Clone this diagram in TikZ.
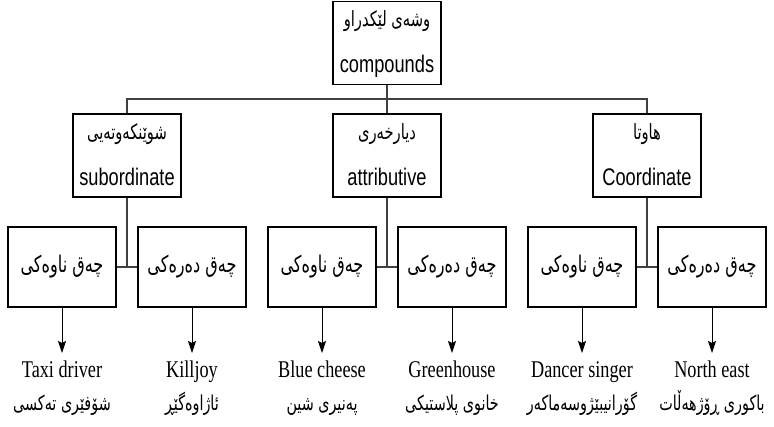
\documentclass[tikz,border=0pt]{standalone}
\usepackage{fontspec}
\setmainfont{Liberation Sans}[FakeStretch=0.76]
\newfontfamily\timesfont{Liberation Serif}[FakeStretch=0.76]
\newfontfamily\kufont[Script=Arabic,FakeStretch=0.7]{DejaVu Sans}
\TeXXeTstate=1
\usetikzlibrary{arrows.meta}
\newcommand{\kurd}[2][21]{{\kufont\fontsize{#1}{30}\selectfont\beginR #2\endR}}
\newcommand{\upstrut}{\rule{0pt}{25pt}}
\newcommand{\downstrut}{\rule[-12pt]{0pt}{12pt}}

\begin{document}
\begin{tikzpicture}[x=1pt, y=-1pt, >={Stealth[length=12pt,width=8pt,inset=2pt]},
    box/.style={draw, line width=1.1pt, minimum width=108pt, inner sep=0pt, align=center},
    headbox/.style={box, minimum height=79pt, font=\fontsize{24}{30}\selectfont},
    leafbox/.style={box, minimum height=80pt},
    tree/.style={line width=1.4pt, black!75},
    exen/.style={anchor=north, inner xsep=0pt, inner ysep=7pt, text height=17pt,
      font=\timesfont\fontsize{24}{28}\selectfont},
    exku/.style={anchor=base, inner sep=0pt}]
    \useasboundingbox (0,0) rectangle (774,426);

    % top of the tree
    \node[headbox, minimum height=78pt] (comp) at (387,43)
      {\upstrut\kurd{وشەی لێکدراو}\\[16pt]compounds\downstrut};
    \node[headbox] (sub) at (127,155.5)
      {\upstrut\kurd{شوێنکەوتەیی}\\[16pt]subordinate\downstrut};
    \node[headbox] (attr) at (387,155.5)
      {\upstrut\kurd{دیارخەری}\\[16pt]attributive\downstrut};
    \node[headbox] (coor) at (647,155.5)
      {\upstrut\kurd{هاوتا}\\[16pt]Coordinate\downstrut};
    \coordinate (bar) at (387,99);
    \draw[tree] (comp) -- (attr);
    \draw[tree] (sub.north) |- (bar) -| (coor.north);

    % endocentric / exocentric boxes
    \node[leafbox] (subin) at (62,267) {\kurd[23]{چەق ناوەکی}};
    \node[leafbox] (subex) at (192,267) {\kurd[23]{چەق دەرەکی}};
    \node[leafbox] (attin) at (322,267) {\kurd[23]{چەق ناوەکی}};
    \node[leafbox] (attex) at (452,267) {\kurd[23]{چەق دەرەکی}};
    \node[leafbox] (coin) at (582,267) {\kurd[23]{چەق ناوەکی}};
    \node[leafbox] (coex) at (712,267) {\kurd[23]{چەق دەرەکی}};
    \draw[tree] (sub) -- (sub |- subin.east);
    \draw[tree] (subin.east) -- (subex.west);
    \draw[tree] (attr) -- (attr |- attin.east);
    \draw[tree] (attin.east) -- (attex.west);
    \draw[tree] (coor) -- (coor |- coin.east);
    \draw[tree] (coin.east) -- (coex.west);

    % examples
    \node[exen] (taxi) at (62,353) {Taxi driver};
    \node[exen] (kill) at (192,353) {Killjoy};
    \node[exen] (blue) at (322,353) {Blue cheese};
    \node[exen] (green) at (452,353) {Greenhouse};
    \node[exen] (dance) at (582,353) {Dancer singer};
    \node[exen] (north) at (712,353) {North east};
    \node[exku] at (62,410) {\kurd[20.5]{شۆفێری تەکسی}};
    \node[exku] at (192,410) {\kurd[20.5]{ئاژاوەگێڕ}};
    \node[exku] at (322,410) {\kurd[20.5]{پەنیری شین}};
    \node[exku] at (452,410) {\kurd[20.5]{خانوی پلاستیکی}};
    \node[exku] at (582,410) {\kurd[20.5]{گۆرانیبێژوسەماکەر}};
    \node[exku] at (712,410) {\kurd[20.5]{باکوری ڕۆژهەڵات}};
    \draw[->, line width=1pt] (subin) -- (taxi);
    \draw[->, line width=1pt] (subex) -- (kill);
    \draw[->, line width=1pt] (attin) -- (blue);
    \draw[->, line width=1pt] (attex) -- (green);
    \draw[->, line width=1pt] (coin) -- (dance);
    \draw[->, line width=1pt] (coex) -- (north);
\end{tikzpicture}
\end{document}
